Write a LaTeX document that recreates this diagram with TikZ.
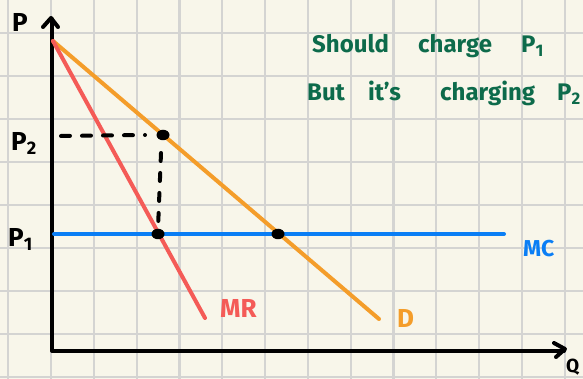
\documentclass[tikz,border=0pt]{standalone}
\usepackage{fontspec}
\setmainfont{Fira Sans}
\usetikzlibrary{shapes.geometric}
\definecolor{paper}{HTML}{F8F6EA}
\definecolor{gridc}{HTML}{D4D4D2}
\definecolor{demandc}{HTML}{F49D2A}
\definecolor{mrc}{HTML}{F45B57}
\definecolor{mcc}{HTML}{0A7EF5}
\definecolor{notec}{HTML}{0D6B4B}
\tikzset{
  gridline/.style={gridc, line width=2.2pt},
  axisline/.style={black, line width=4pt, line cap=round, line join=round},
  curve/.style={line width=4pt, line cap=round},
  dashline/.style={black, line width=4pt, line cap=round, dash pattern=on 9pt off 12pt},
  dot/.style={ellipse, fill=black, minimum width=13pt, minimum height=10.5pt, inner sep=0pt},
  lbl/.style={font=\fontsize{26}{26}\selectfont\bfseries, inner sep=0pt, anchor=base west},
  note/.style={font=\fontsize{24}{24}\selectfont\bfseries, text=notec, inner sep=0pt, anchor=base west}
}
\begin{document}
\begin{tikzpicture}[x=1pt, y=-1pt]
\useasboundingbox (0,0) rectangle (583,379);
\fill[paper] (0,0) rectangle (583,379);
% grid
\foreach \i in {0,...,13} {\draw[gridline] ({8.3+42.8*\i},0) -- ({8.3+42.8*\i},379);}
\foreach \j in {0,...,8} {\draw[gridline] (0,{33.4+42.9*\j}) -- (583,{33.4+42.9*\j});}
% axes
\coordinate (O) at (52,351);
\coordinate (ytop) at (52,19);
\coordinate (xend) at (564,351);
\draw[axisline] (ytop) -- (O) -- (xend);
\draw[axisline] (43,27) -- (51,18) -- (58,27);
\draw[axisline] (554,343) -- (565,349) -- (556,357);
% curves
\coordinate (top) at (53,41);
\coordinate (Dend) at (379,319);
\coordinate (MRend) at (205,318);
\coordinate (MCstart) at (54,234);
\coordinate (MCend) at (504,234);
\draw[curve, mcc] (MCstart) -- (MCend);
\draw[curve, demandc] (top) -- (Dend);
\draw[curve, mrc] (top) -- (MRend);
% dots
\node[dot] (E2) at (163,135) {};
\node[dot] (E1) at (158,234) {};
\node[dot] (E3) at (278,234) {};
% dashed guides
\coordinate (P2a) at (61,136);
\draw[dashline] (P2a) -- (145,135);
\draw[dashline, dash pattern=on 8pt off 12pt] (161,153) -- (E1.north);
% labels
\node[lbl] (Plab) at (12,32) {P};
\node[lbl] (P2lab) at (11,151) {P\textsubscript{2}};
\node[lbl] (P1lab) at (8,247) {P\textsubscript{1}};
\node[lbl, font=\fontsize{19}{19}\selectfont\bfseries] (Qlab) at (566,372) {Q};
\node[lbl, text=mrc] (MRlab) at (220,317) {MR};
\node[lbl, text=demandc] (Dlab) at (397,327) {D};
\node[lbl, text=mcc, font=\fontsize{23}{23}\selectfont\bfseries] (MClab) at (523,257) {MC};
% notes
\node[note] (w1) at (312,53) {Should};
\node[note] (w2) at (418,53) {charge};
\node[note] (w3) at (521,53) {P\textsubscript{1}};
\node[note] (w4) at (307,101) {But};
\node[note] (w5) at (368,101) {it's};
\node[note] (w6) at (440,101) {charging};
\node[note] (w7) at (557,101) {P\textsubscript{2}};
\end{tikzpicture}
\end{document}
